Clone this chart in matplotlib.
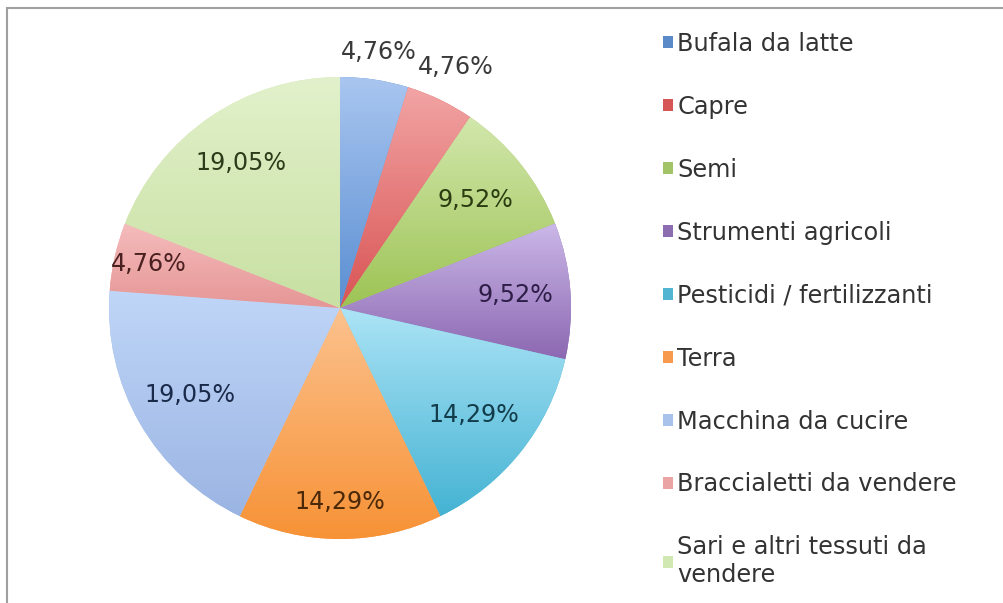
import numpy as np
import matplotlib
matplotlib.use('Agg')
import matplotlib.pyplot as plt
from matplotlib.colors import LinearSegmentedColormap
from matplotlib.patches import Rectangle

plt.rcParams.update({
    'font.family': 'DejaVu Sans',
    'text.color': '#333333',
})

labels = ['Bufala da latte', 'Capre', 'Semi', 'Strumenti agricoli',
          'Pesticidi / fertilizzanti', 'Terra', 'Macchina da cucire',
          'Braccialetti da vendere', 'Sari e altri tessuti da\nvendere']
values = [4.76, 4.76, 9.52, 9.52, 14.29, 14.29, 19.05, 4.76, 19.05]

# top (light) / bottom (dark) shade of every slice
light = ['#A9C6F0', '#F2A4A4', '#D2E7AC', '#CBB8E8', '#ADE4F6',
         '#FCC28E', '#C0D6F8', '#F5BCBC', '#E2F1CB']
dark = ['#5A8ED2', '#D95454', '#9DC354', '#8C68B2', '#44B3D3',
        '#F79236', '#9BB5E3', '#E69696', '#C8E0A2']
legend_colors = ['#5A8AC8', '#D65656', '#A3C466', '#8C6EB0', '#52B6D2',
                 '#F79A4E', '#A8C2EC', '#EBA4A4', '#D2E8B2']
text_colors = ['#3A3A3A', '#3A3A3A', '#2C3C12', '#2E1E48', '#123C4A',
               '#4A2808', '#1A2A4A', '#4A2020', '#2C3C1A']
label_dist = [1.12, 1.16, 0.75, 0.76, 0.74, 0.84, 0.75, 0.85, 0.76]

fig = plt.figure(figsize=(10.04, 6.03), dpi=100)
W, H = 1004, 603
cx, cy, r = 340, 308, 231
ax = fig.add_axes([(cx - r) / W, (H - cy - r) / H, 2 * r / W, 2 * r / H])

wedges, _ = ax.pie(values, startangle=90, counterclock=False, radius=1,
                   colors=legend_colors, wedgeprops=dict(linewidth=0))

# vertical gradient inside every slice
grad = np.linspace(0, 1, 256).reshape(-1, 1)
for w, c0, c1 in zip(wedges, light, dark):
    ext = w.get_path().get_extents()
    cmap = LinearSegmentedColormap.from_list('g', [c1, c0])
    im = ax.imshow(grad, cmap=cmap, origin='lower', aspect='auto',
                   extent=[ext.x0, ext.x1, ext.y0, ext.y1], zorder=2)
    im.set_clip_path(w)

for w, v, d, tc in zip(wedges, values, label_dist, text_colors):
    ang = np.deg2rad((w.theta1 + w.theta2) / 2)
    ax.text(d * np.cos(ang), d * np.sin(ang), f'{v:.2f}%'.replace('.', ','),
            ha='center', va='center', fontsize=17.2, color=tc, zorder=5)

ax.set_xlim(-1, 1)
ax.set_ylim(-1, 1)
ax.set_aspect('equal')
ax.axis('off')

fig.legend(wedges, labels, loc='upper left',
           bbox_to_anchor=(663 / W, 1 - 32 / H), borderaxespad=0, borderpad=0,
           frameon=False, fontsize=17.3, handlelength=0.4, handleheight=0.4,
           handletextpad=0.2, labelspacing=1.62, labelcolor='#333333')

# chart frame
fig.patches.append(Rectangle((7 / W, -0.1), 1.2, 1.1 - 8 / H, transform=fig.transFigure,
                             fill=False, edgecolor='#A0A0A0', linewidth=1.5))

fig.savefig('out.png', dpi=100, facecolor='white')
